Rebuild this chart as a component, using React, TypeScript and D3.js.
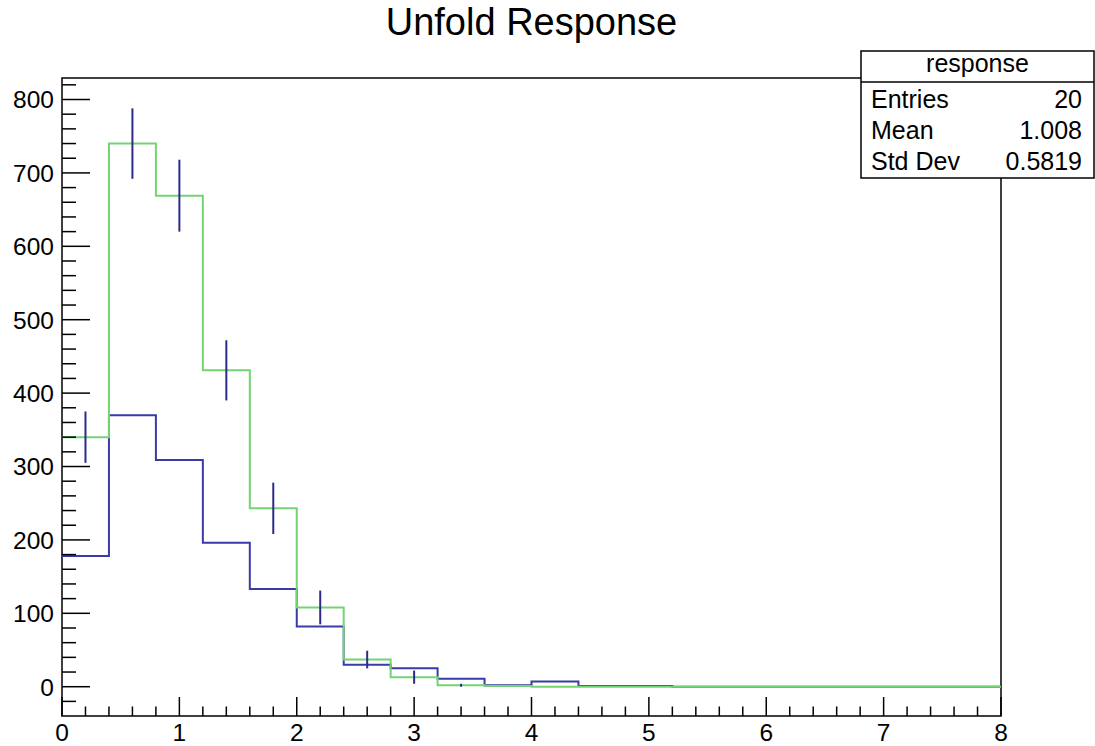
import React, { useEffect, useRef } from 'react';
import * as d3 from 'd3';

// 20 bins of width 0.4 over [0, 8]
const binEdges = d3.range(0, 8.0001, 0.4);
const responseCounts = [178, 370, 309, 196, 133, 82, 30, 25, 11, 2, 7, 1, 1, 0, 0, 0, 0, 0, 0, 0];
const unfoldedCounts = [340, 740, 669, 431, 243, 108, 37, 13, 2, 1, 0, 0, 0, 0, 0, 0, 0, 0, 0, 0];
const unfoldedErrors = [35, 48, 49, 41, 35, 23, 12, 9, 2, 0, 0, 0, 0, 0, 0, 0, 0, 0, 0, 0];
const statLabels = ['Entries', 'Mean', 'Std Dev'];
const statValues = ['20', '1.008', '0.5819'];

const FONT = "'Liberation Sans', Arial, Helvetica, sans-serif";

function App() {
  const ref = useRef<SVGSVGElement>(null);

  useEffect(() => {
    const svg = d3.select(ref.current);
    svg.selectAll('*').remove();

    const left = 62, right = 1001, top = 78, bottom = 716;
    const x = d3.scaleLinear().domain([0, 8]).range([left, right]);
    const y = d3.scaleLinear().domain([-39.9, 829.3]).range([bottom, top]);

    // title
    svg.append('text')
      .attr('x', (left + right) / 2).attr('y', 35)
      .attr('text-anchor', 'middle')
      .attr('font-family', FONT).attr('font-size', 38)
      .text('Unfold Response');

    // frame
    svg.append('rect')
      .attr('x', left).attr('y', top)
      .attr('width', right - left).attr('height', bottom - top)
      .attr('fill', 'none').attr('stroke', '#000').attr('stroke-width', 1.5);

    // histograms as steps
    const step = (vals: number[]) => {
      const pts: [number, number][] = vals.map((v, i) => [binEdges[i], v]);
      pts.push([binEdges[vals.length], vals[vals.length - 1]]);
      return d3.line<[number, number]>()
        .x(d => x(d[0])).y(d => y(d[1]))
        .curve(d3.curveStepAfter)(pts);
    };

    svg.append('path').attr('d', step(responseCounts))
      .attr('fill', 'none').attr('stroke', '#3a3aa8').attr('stroke-width', 2);
    svg.append('path').attr('d', step(unfoldedCounts))
      .attr('fill', 'none').attr('stroke', '#74d474').attr('stroke-width', 2);

    // error bars
    svg.selectAll('.err').data(unfoldedCounts.map((v, i) => ({ v, e: unfoldedErrors[i], c: binEdges[i] + 0.2 })).filter(d => d.e > 0))
      .join('line').attr('class', 'err')
      .attr('x1', d => x(d.c)).attr('x2', d => x(d.c))
      .attr('y1', d => y(d.v - d.e)).attr('y2', d => y(d.v + d.e))
      .attr('stroke', '#2c2c88').attr('stroke-width', 2);

    // y axis ticks
    const yMinor = d3.range(-40, 830, 20).filter(v => v > -39.9);
    svg.selectAll('.ytick').data(yMinor).join('line').attr('class', 'ytick')
      .attr('x1', left).attr('x2', d => left + (d % 100 === 0 ? 28 : 14))
      .attr('y1', d => y(d)).attr('y2', d => y(d))
      .attr('stroke', '#000').attr('stroke-width', 1.5);
    svg.selectAll('.ylab').data(d3.range(0, 801, 100)).join('text').attr('class', 'ylab')
      .attr('x', 54).attr('y', d => y(d)).attr('dy', '0.36em')
      .attr('text-anchor', 'end')
      .attr('font-family', FONT).attr('font-size', 24.5)
      .text(d => d);

    // x axis ticks
    const xMinor = d3.range(0, 41).map(i => i * 0.2);
    svg.selectAll('.xtick').data(xMinor).join('line').attr('class', 'xtick')
      .attr('x1', d => x(d)).attr('x2', d => x(d))
      .attr('y1', bottom).attr('y2', (d, i) => bottom - (i % 5 === 0 ? 19 : 9.5))
      .attr('stroke', '#000').attr('stroke-width', 1.5);
    svg.selectAll('.xlab').data(d3.range(0, 9)).join('text').attr('class', 'xlab')
      .attr('x', d => x(d)).attr('y', 741)
      .attr('text-anchor', 'middle')
      .attr('font-family', FONT).attr('font-size', 24.5)
      .text(d => d);

    // stats box
    const bx = 861, bw = 233, by = 51, bh = 127;
    svg.append('rect').attr('x', bx).attr('y', by).attr('width', bw).attr('height', bh)
      .attr('fill', '#fff').attr('stroke', '#000').attr('stroke-width', 1.5);
    svg.append('line').attr('x1', bx).attr('x2', bx + bw).attr('y1', 82).attr('y2', 82)
      .attr('stroke', '#000').attr('stroke-width', 1.5);
    svg.append('text').attr('x', bx + bw / 2).attr('y', 72)
      .attr('text-anchor', 'middle').attr('font-family', FONT).attr('font-size', 25)
      .text('response');
    const rowY = [108, 139, 170];
    statLabels.forEach((lab, i) => {
      svg.append('text').attr('x', 871).attr('y', rowY[i])
        .attr('font-family', FONT).attr('font-size', 25).text(lab);
      svg.append('text').attr('x', 1082).attr('y', rowY[i]).attr('text-anchor', 'end')
        .attr('font-family', FONT).attr('font-size', 25).text(statValues[i]);
    });
  }, []);

  return (
    <svg ref={ref} width={1095} height={746}
      style={{ position: 'absolute', left: 0, top: 0, background: '#fff' }} />
  );
}

export default App;
